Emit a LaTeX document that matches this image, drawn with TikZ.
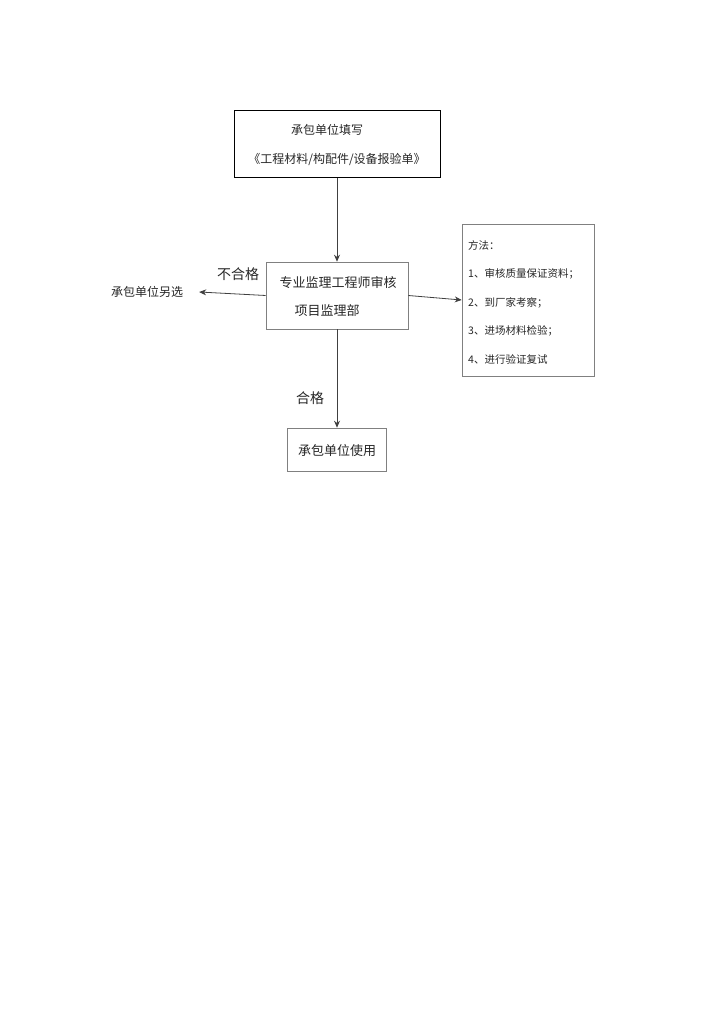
\documentclass[tikz,border=0pt]{standalone}
\usepackage{fontspec}
\newfontfamily\cjk{Noto Sans CJK SC}
\usetikzlibrary{arrows.meta,positioning}
\tikzset{>={Stealth[length=7pt,width=6pt]}}

\begin{document}
\begin{tikzpicture}[x=1pt, y=-1pt,
    every node/.style={font=\cjk\fontsize{12}{14}\selectfont, text=black!85},
    box/.style={draw=black!50, line width=0.6pt, inner sep=0pt},
    flow/.style={->, draw=black!75, line width=0.8pt}]
	\useasboundingbox (0,0) rectangle (724,1024);
	% boxes
	\node[box, draw=black, line width=1pt, minimum width=206pt, minimum height=67pt] (fill) at (337,144.5) {};
	\node[box, minimum width=142pt, minimum height=67pt] (check) at (337,295.5) {};
	\node[box, minimum width=132pt, minimum height=152pt] (method) at (528,300) {};
	\node[box, minimum width=99pt, minimum height=43pt] (use) at (337,449.5) {};
	% texts
	\node (fill1) at (327,130) {承包单位填写};
	\node (fill2) at (337,159) {《工程材料/构配件/设备报验单》};
	\node[font=\cjk\fontsize{13}{15}\selectfont] (check1) at (338,283) {专业监理工程师审核};
	\node[font=\cjk\fontsize{13}{15}\selectfont] (check2) at (327,311) {项目监理部};
	\node[font=\cjk\fontsize{13}{15}\selectfont] (use1) at (337,451) {承包单位使用};
	\node[inner sep=0pt] (alt) at (147,292) {承包单位另选};
	\node[font=\cjk\fontsize{14}{16}\selectfont] (fail) at (238,274) {不合格};
	\node[font=\cjk\fontsize{14}{16}\selectfont] (pass) at (310,398) {合格};
	\node[anchor=north west, align=left, inner sep=0pt,
	      font=\cjk\fontsize{10.5}{28.5}\selectfont] (steps) at (468,240)
	      {方法：\\1、审核质量保证资料；\\2、到厂家考察；\\3、进场材料检验；\\4、进行验证复试};
	% connectors
	\draw[flow] (fill) -- (check);
	\draw[flow] (check) -- (use);
	\draw[flow] (check.west) -- ([xshift=16pt]alt.east);
	\draw[flow] (check.east) -- (method.west);
\end{tikzpicture}
\end{document}
